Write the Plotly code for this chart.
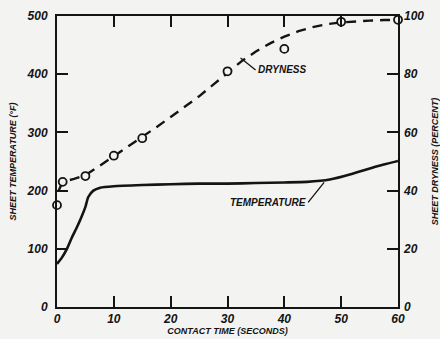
import plotly.graph_objects as go

# --- data ---
dry_pts_t = [0, 1, 5, 10, 15, 30, 40, 50, 60]
dry_pts_pct = [35, 43, 45, 52, 58, 81, 88.7, 98, 98.7]

dry_curve_t = [0.3, 1, 3, 5, 7.5, 10, 12.5, 15, 17.5, 20, 22.5, 25, 27.5, 30, 32.5, 35, 37.5, 40, 42.5, 45, 47.5, 50, 52.5, 55, 57.5, 60]
dry_curve_pct = [40, 43, 44, 45.3, 48.5, 51.8, 55, 58.4, 61.8, 65.3, 68.8, 72.4, 76.4, 80.5, 84.5, 87.8, 90.6, 92.9, 94.8, 96.2, 97.2, 97.8, 98.2, 98.4, 98.6, 98.7]

temp_t = [0, 0.8, 1.7, 2.6, 3.4, 4.1, 5, 5.5, 6.4, 7.6, 10, 15, 20, 25, 30, 35, 40, 44, 48, 52, 56, 60]
temp_F = [74, 84, 99, 119, 135, 150, 172, 189, 200, 205, 207.5, 209.5, 211, 212, 212, 213, 214, 215, 219, 229, 241, 251]

x_ticks = [0, 10, 20, 30, 40, 50, 60]
yl_ticks = [0, 100, 200, 300, 400, 500]
yr_ticks = [0, 20, 40, 60, 80, 100]

BG = "#f3f3f1"
INK = "#141414"
tickfont = dict(family="Liberation Sans", size=12, color=INK, style="italic", weight="bold")
titlefont = dict(family="Liberation Sans", size=9, color=INK, style="italic", weight="bold")

fig = go.Figure()
fig.add_trace(go.Scatter(x=temp_t, y=temp_F, mode="lines", line=dict(color=INK, width=2.6, shape="spline", smoothing=0.5),
                         yaxis="y", showlegend=False))
fig.add_trace(go.Scatter(x=dry_curve_t, y=dry_curve_pct, mode="lines",
                         line=dict(color=INK, width=2.4, dash="10px,7px"),
                         yaxis="y2", showlegend=False))
fig.add_trace(go.Scatter(x=dry_pts_t, y=dry_pts_pct, mode="markers",
                         marker=dict(symbol="circle", size=8, color=BG, line=dict(color=INK, width=1.8)),
                         yaxis="y2", showlegend=False, cliponaxis=False))

fig.update_layout(
    width=440, height=339,
    margin=dict(l=57, r=42, t=16, b=32),
    paper_bgcolor=BG, plot_bgcolor=BG,
    xaxis=dict(range=[0, 60], tickvals=x_ticks, ticks="inside", ticklen=11, tickwidth=1.5, tickcolor=INK,
               showline=True, linecolor=INK, linewidth=2, mirror="ticks", showgrid=False, zeroline=False,
               tickfont=tickfont, ticklabelstandoff=0, automargin=False,
               title=dict(text="CONTACT TIME (SECONDS)", font=titlefont, standoff=2)),
    yaxis=dict(range=[0, 500], tickvals=yl_ticks, ticks="inside", ticklen=11, tickwidth=1.5, tickcolor=INK,
               showline=True, linecolor=INK, linewidth=2, mirror="ticks", showgrid=False, zeroline=False,
               tickfont=tickfont, ticklabelstandoff=5, automargin=False,
               title=dict(text="SHEET TEMPERATURE (°F)", font=titlefont, standoff=8)),
    yaxis2=dict(range=[0, 100], tickvals=yr_ticks, overlaying="y", side="right", ticks="",
                showline=False, showgrid=False, zeroline=False, tickfont=tickfont, ticklabelstandoff=5,
                automargin=False,
                title=dict(text="SHEET DRYNESS (PERCENT)", font=titlefont, standoff=8)),
    annotations=[
        dict(x=32.3, y=428, xref="x", yref="y", text="DRYNESS", showarrow=True, arrowhead=0, arrowwidth=1.3,
             arrowcolor=INK, ax=15, ay=12, xanchor="left", yanchor="middle",
             font=dict(family="Liberation Sans", size=10, color=INK, style="italic", weight="bold")),
        dict(x=47, y=214, xref="x", yref="y", text="TEMPERATURE", showarrow=True, arrowhead=0, arrowwidth=1.3,
             arrowcolor=INK, ax=-16, ay=20, xanchor="right", yanchor="middle",
             font=dict(family="Liberation Sans", size=10, color=INK, style="italic", weight="bold")),
    ],
)
fig.write_html("out.html")
